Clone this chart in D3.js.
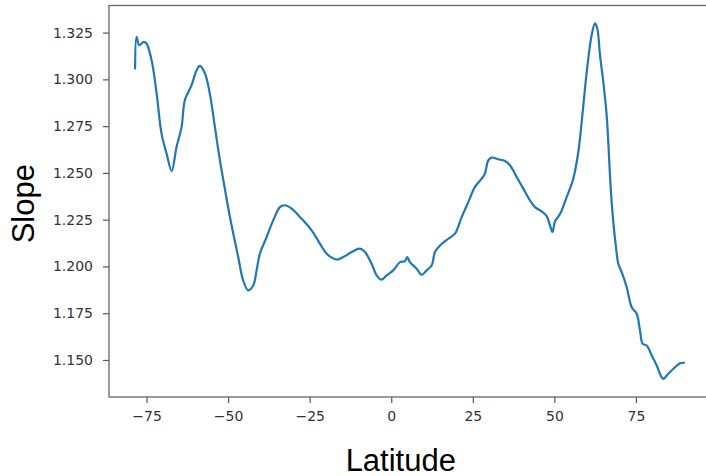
<!DOCTYPE html>
<html>
<head>
<meta charset="utf-8">
<script src="https://cdn.jsdelivr.net/npm/d3@7"></script>
<style>
  html, body { margin: 0; padding: 0; background: #fff; }
  svg { display: block; }
</style>
</head>
<body>
<svg id="chart" width="706" height="476"></svg>
<script>
// Mean slope by latitude
const latitude = [
  -78.5, -78.05, -77.25, -75.8, -75.0, -73.45, -71.9, -70.4, -68.85, -67.3,
  -65.8, -64.25, -63.25, -61.2, -59.65, -58.65, -57.1, -55.6, -54.05, -52.5,
  -51.0, -49.45, -46.9, -45.37, -43.84, -42.31, -41.26, -40.25, -38.2, -36.17,
  -34.12, -32.59, -30.53, -27.47, -24.4, -21.86, -19.8, -16.74, -14.71, -12.14,
  -9.6, -8.06, -6.01, -4.48, -2.94, -1.41, 0.61, 2.67, 4.2, 4.9,
  5.73, 7.79, 9.32, 10.85, 12.39, 13.4, 14.93, 17.47, 19.53, 21.58,
  23.61, 25.66, 27.71, 28.72, 29.74, 30.78, 32.8, 34.86, 36.39, 38.44,
  40.47, 42.52, 44.05, 45.59, 47.64, 48.65, 49.42, 50.18, 51.72, 53.77,
  55.79, 57.33, 58.37, 59.38, 60.39, 61.43, 62.45, 63.15, 63.98, 64.99,
  66.03, 66.52, 67.04, 67.56, 68.27, 68.88, 69.59, 70.63, 72.16, 73.7,
  75.23, 76.24, 77.07, 78.3, 79.83, 81.36, 82.89, 83.38, 84.92, 86.97,
  88.5, 89.73
];
const slope = [
  1.3058, 1.3228, 1.3183, 1.3201, 1.3192, 1.3103, 1.2924, 1.2710, 1.2603, 1.2510,
  1.2639, 1.2746, 1.2889, 1.2969, 1.3049, 1.3072, 1.3032, 1.2924, 1.2746, 1.2567,
  1.2416, 1.2265, 1.2050, 1.1925, 1.1872, 1.1898, 1.1979, 1.2068, 1.2157, 1.2246,
  1.2317, 1.2327, 1.2309, 1.2255, 1.2193, 1.2122, 1.2068, 1.2037, 1.2050, 1.2077,
  1.2095, 1.2077, 1.2014, 1.1952, 1.1929, 1.1952, 1.1979, 1.2023, 1.2028, 1.2050,
  1.2023, 1.1988, 1.1955, 1.1979, 1.2005, 1.2077, 1.2112, 1.2148, 1.2175, 1.2264,
  1.2344, 1.2425, 1.2469, 1.2496, 1.2567, 1.2582, 1.2573, 1.2564, 1.2541, 1.2478,
  1.2416, 1.2353, 1.2317, 1.2300, 1.2269, 1.2219, 1.2184, 1.2240, 1.2280, 1.2371,
  1.2469, 1.2612, 1.2772, 1.2951, 1.3111, 1.3237, 1.3299, 1.3272, 1.3130, 1.2987,
  1.2808, 1.2665, 1.2487, 1.2344, 1.2200, 1.2103, 1.2014, 1.1969, 1.1889, 1.1782,
  1.1747, 1.1657, 1.1586, 1.1577, 1.1524, 1.1470, 1.1407, 1.1399, 1.1426, 1.1461,
  1.1482, 1.1485
];
const xTicks = [-75, -50, -25, 0, 25, 50, 75];
const yTicks = [1.150, 1.175, 1.200, 1.225, 1.250, 1.275, 1.300, 1.325];

const svg = d3.select("#chart");
const plotLeft = 109, plotRight = 711, plotTop = 5.5, plotBottom = 397;

const x = d3.scaleLinear().domain([-86.5, 98]).range([plotLeft, plotRight]);
const y = d3.scaleLinear().domain([1.1302, 1.3395]).range([plotBottom, plotTop]);

const tickFont = "'DejaVu Sans', sans-serif";
const labelFont = "'Liberation Sans', Arial, sans-serif";

// x axis
const xAxis = d3.axisBottom(x)
  .tickValues(xTicks)
  .tickSize(6)
  .tickPadding(8)
  .tickFormat(d => d < 0 ? "\u2212" + Math.abs(d) : String(d));
const gx = svg.append("g").attr("transform", `translate(0,${plotBottom})`).call(xAxis);
gx.select(".domain").remove();
gx.selectAll(".tick line").attr("stroke", "#555").attr("stroke-width", 1.2);
gx.selectAll(".tick text")
  .attr("fill", "#333")
  .style("font-family", tickFont)
  .style("font-size", "14px");

// y axis
const yAxis = d3.axisLeft(y)
  .tickValues(yTicks)
  .tickSize(6)
  .tickPadding(10)
  .tickFormat(d3.format(".3f"));
const gy = svg.append("g").attr("transform", `translate(${plotLeft},0)`).call(yAxis);
gy.select(".domain").remove();
gy.selectAll(".tick line").attr("stroke", "#555").attr("stroke-width", 1.2);
gy.selectAll(".tick text")
  .attr("fill", "#333")
  .style("font-family", tickFont)
  .style("font-size", "14px");

// data line
const line = d3.line()
  .x((d, i) => x(latitude[i]))
  .y((d, i) => y(slope[i]))
  .curve(d3.curveCatmullRom.alpha(0.5));
svg.append("path")
  .datum(slope)
  .attr("fill", "none")
  .attr("stroke", "#1f77b4")
  .attr("stroke-width", 2.2)
  .attr("stroke-linejoin", "round")
  .attr("stroke-linecap", "round")
  .attr("d", line);

// frame
svg.append("rect")
  .attr("x", plotLeft).attr("y", plotTop)
  .attr("width", plotRight - plotLeft).attr("height", plotBottom - plotTop)
  .attr("fill", "none")
  .attr("stroke", "#666")
  .attr("stroke-width", 1.3);

// axis titles
svg.append("text")
  .attr("x", 400.8).attr("y", 470.5)
  .attr("text-anchor", "middle")
  .style("font-family", labelFont)
  .style("font-size", "31px")
  .attr("fill", "#000")
  .text("Latitude");

svg.append("text")
  .attr("transform", "translate(33.5,203.7) rotate(-90)")
  .attr("text-anchor", "middle")
  .style("font-family", labelFont)
  .style("font-size", "31px")
  .attr("fill", "#000")
  .text("Slope");
</script>
</body>
</html>
